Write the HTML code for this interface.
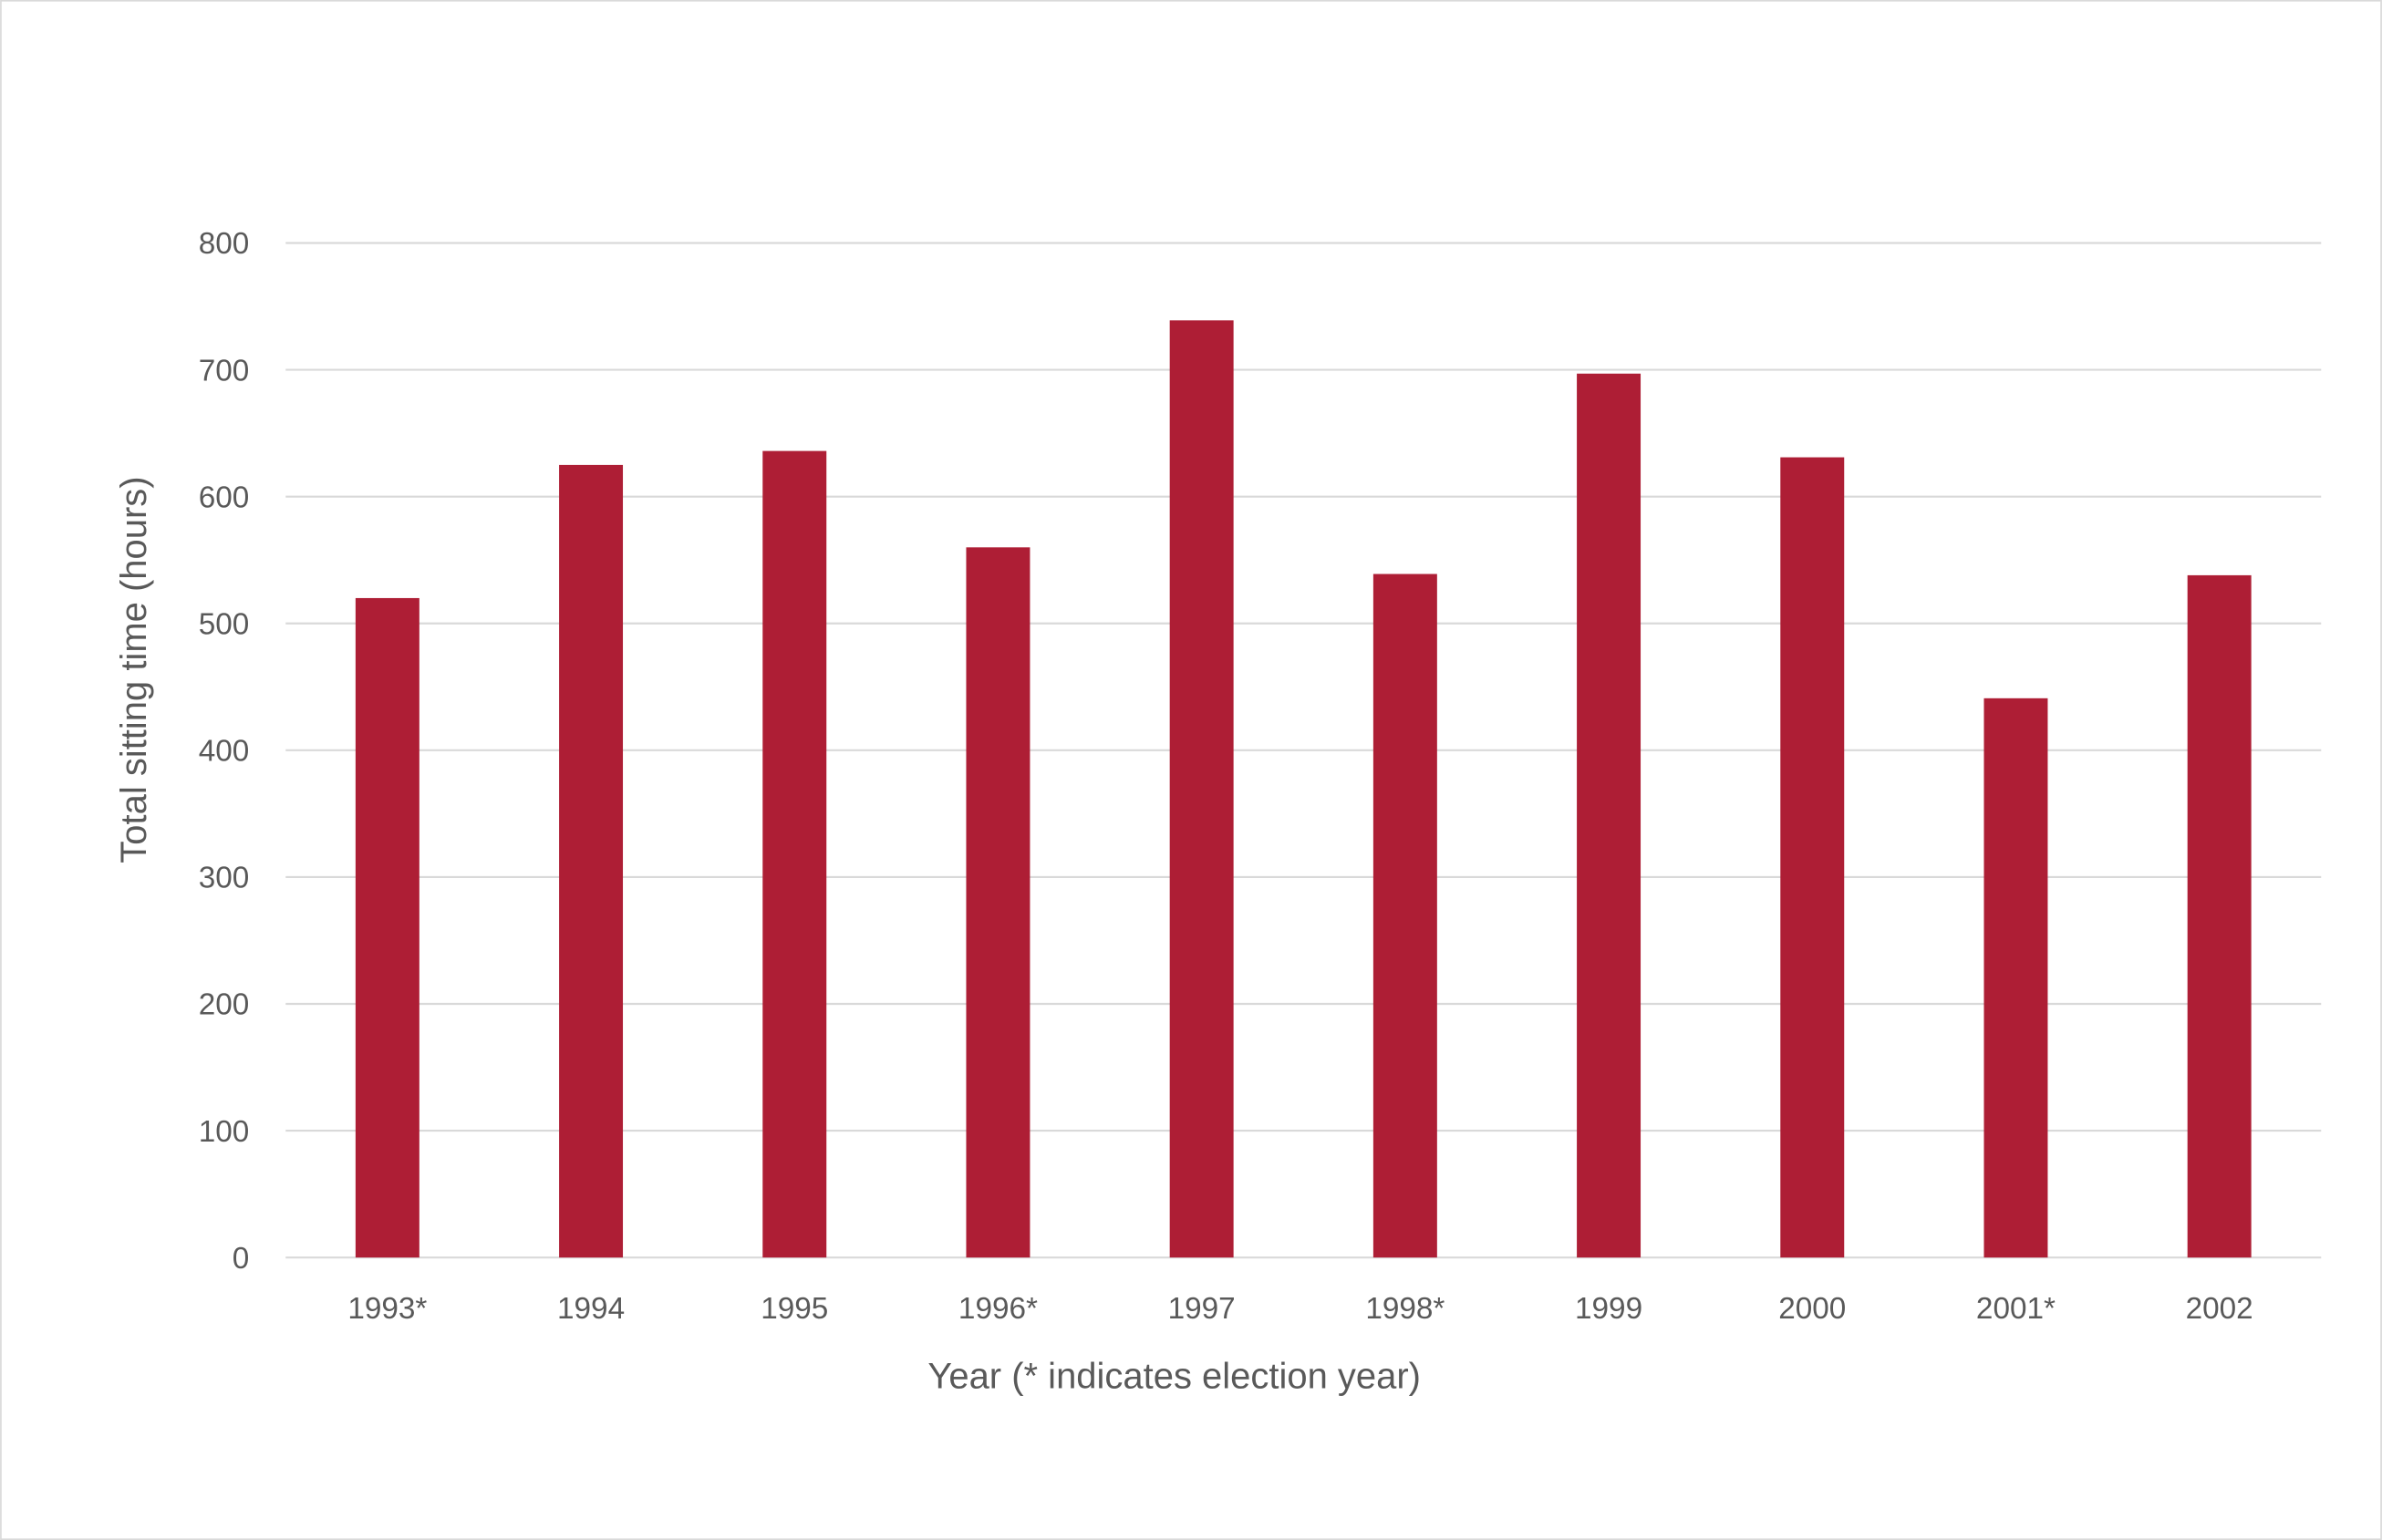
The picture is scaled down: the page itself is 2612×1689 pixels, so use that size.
<!DOCTYPE html>
<html><head><meta charset="utf-8"><style>
html,body{margin:0;padding:0;background:#fff;}
svg{display:block;}
text{font-family:"Liberation Sans",sans-serif;fill:#595959;}
</style></head><body>
<svg id="chart" width="2612" height="1689" viewBox="0 0 1568 1014" xmlns="http://www.w3.org/2000/svg">
<rect x="0.5" y="0.5" width="1567" height="1013" fill="#fff" stroke="#d9d9d9" stroke-width="1"/>
<g id="grid"></g>
<g id="bars"></g>
<g id="xlabels"></g>
<g id="ylabels"></g>
<text transform="translate(96,441) rotate(-90)" text-anchor="middle" font-size="24">Total sitting time (hours)</text>
<text x="773" y="914" text-anchor="middle" font-size="24">Year (* indicates election year)</text>
</svg>
<script>
const categories = ["1993*","1994","1995","1996*","1997","1998*","1999","2000","2001*","2002"];
const values = [520, 625, 636, 560, 739, 539, 697, 631, 441, 538];
const yTicks = [0,100,200,300,400,500,600,700,800];
const NS="http://www.w3.org/2000/svg";
const L=188,R=1528,T=160,B=828,yMax=800;
const y=v=>B-(v/yMax)*(B-T);
const band=(R-L)/categories.length;
const x=i=>L+band*(i+0.5);
const bw=42;
const grid=document.getElementById('grid'),bars=document.getElementById('bars'),xl=document.getElementById('xlabels'),yl=document.getElementById('ylabels');
yTicks.forEach(t=>{
  const l=document.createElementNS(NS,'line');
  
  
  l.setAttribute('x1',L);l.setAttribute('x2',R);l.setAttribute('y1',y(t));l.setAttribute('y2',y(t));
  l.setAttribute('stroke','#d9d9d9');l.setAttribute('stroke-width','1.3');
  grid.appendChild(l);
  const tx=document.createElementNS(NS,'text');
  
  
  tx.setAttribute('x',164);tx.setAttribute('y',y(t)+7);tx.setAttribute('text-anchor','end');tx.setAttribute('font-size','20');
  tx.textContent=t;yl.appendChild(tx);
});
categories.forEach((c,i)=>{
  const r=document.createElementNS(NS,'rect');
  
  
  r.setAttribute('x',x(i)-bw/2);r.setAttribute('width',bw);
  r.setAttribute('y',y(values[i]));r.setAttribute('height',B-y(values[i]));
  r.setAttribute('fill','#ae1e35');
  bars.appendChild(r);
  const tx=document.createElementNS(NS,'text');
  
  
  tx.setAttribute('x',x(i));tx.setAttribute('y',868);tx.setAttribute('text-anchor','middle');tx.setAttribute('font-size','20');
  tx.textContent=c;xl.appendChild(tx);
});
</script>
</body></html>
